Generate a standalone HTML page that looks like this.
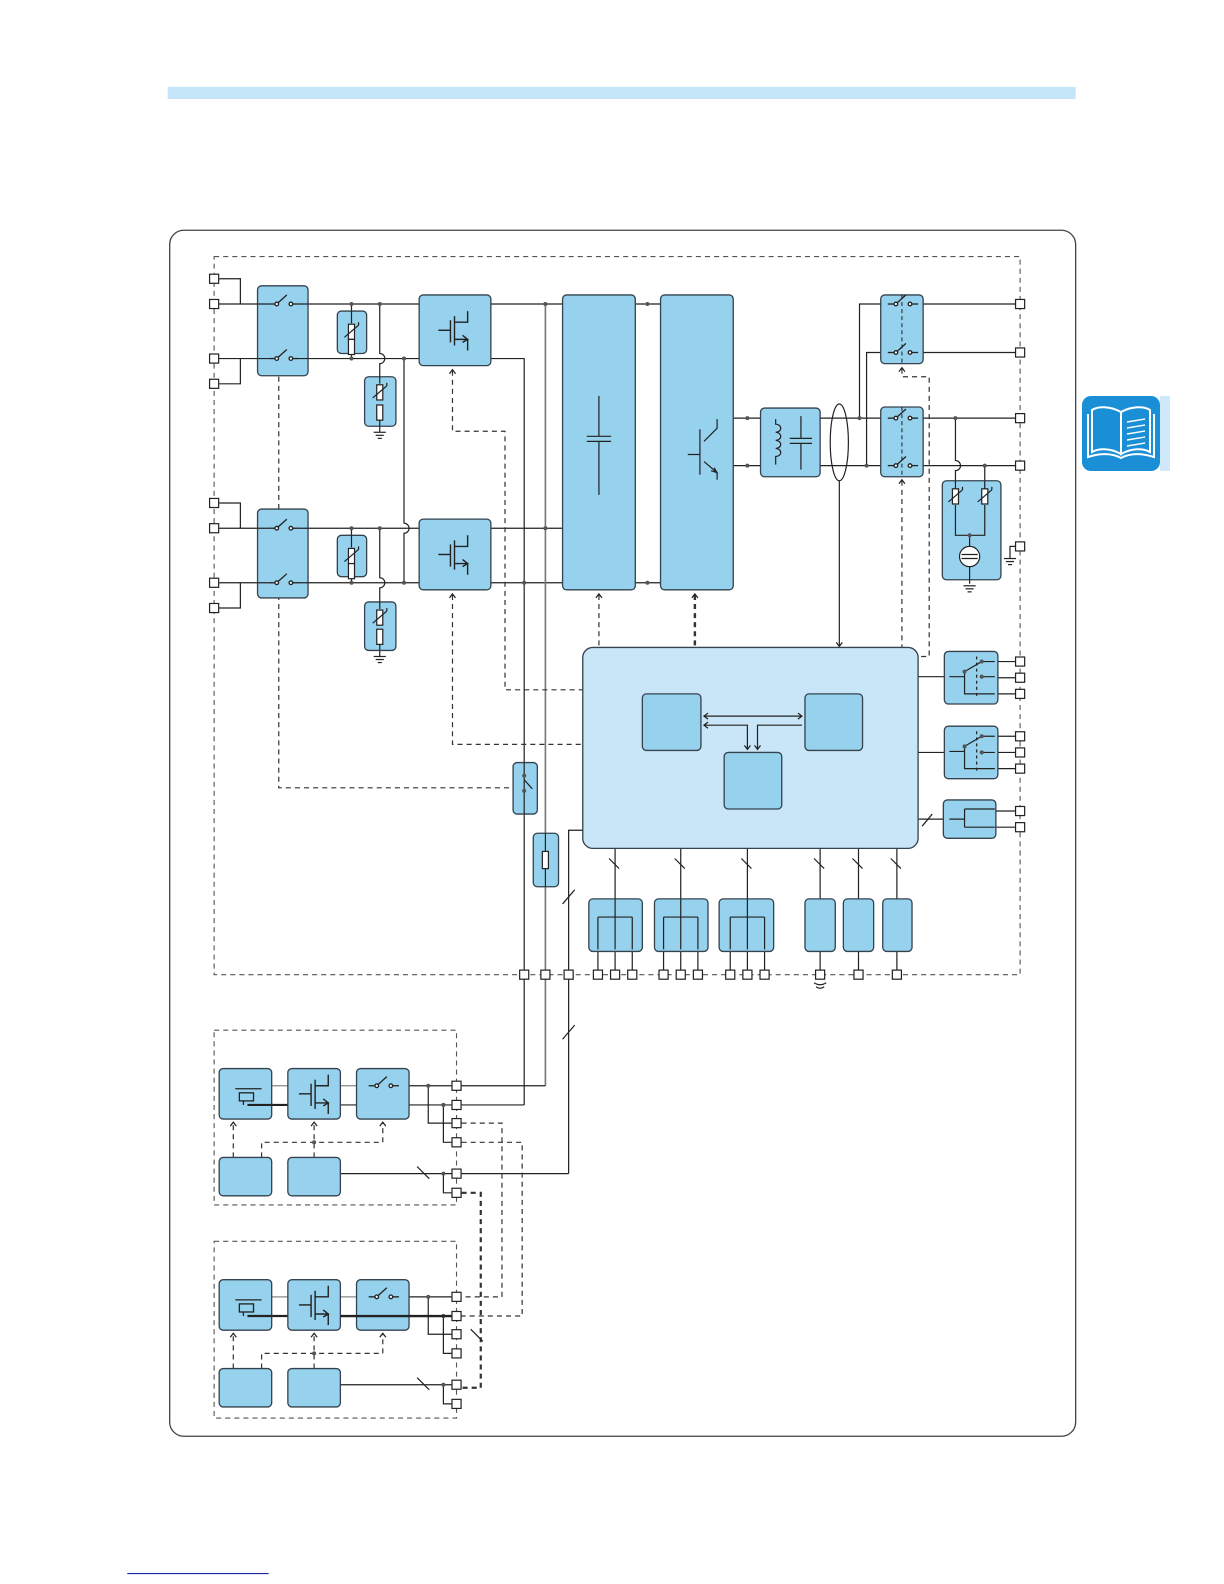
<!DOCTYPE html>
<html><head><meta charset="utf-8"><style>
html,body{margin:0;padding:0;background:#fff;}
svg{display:block;}
</style></head><body>
<svg width="1224" height="1584" viewBox="0 0 1224 1584" xmlns="http://www.w3.org/2000/svg">
<defs>
<g id="sw" stroke="#222" stroke-width="1.3" fill="none">
<line x1="-14" y1="0" x2="-6" y2="0"/><line x1="-6" y1="0" x2="4" y2="-9"/><line x1="8" y1="0" x2="16" y2="0"/>
<circle cx="-6" cy="0" r="1.8" fill="#fff"/><circle cx="8" cy="0" r="1.8" fill="#fff"/>
</g>
<g id="var" stroke="#222" stroke-width="1.2"><rect x="-3" y="0" width="6" height="15" fill="#fff"/><line x1="-7" y1="13" x2="7" y2="1"/><line x1="7" y1="1" x2="7" y2="-2"/></g>
<g id="res" stroke="#222" stroke-width="1.2"><rect x="-3" y="0" width="6" height="15" fill="#fff"/></g>
<g id="gnd" stroke="#222" stroke-width="1.2"><line x1="-6" y1="0" x2="6" y2="0"/><line x1="-4" y1="3" x2="4" y2="3"/><line x1="-2" y1="6" x2="2" y2="6"/></g>
<g id="fet" stroke="#222" stroke-width="1.4" fill="none">
<line x1="-16" y1="0" x2="-4" y2="0"/><line x1="-4" y1="-10" x2="-4" y2="12"/><line x1="0" y1="-14" x2="0" y2="15"/>
<polyline points="0,-8 13,-8 13,-19"/><polyline points="0,9 13,9 13,20"/><polyline points="8,5 13,9 8,12"/>
</g>
<g id="bat" stroke="#222" stroke-width="1.3" fill="none">
<line x1="-10" y1="-8" x2="16" y2="-8"/><rect x="-6" y="-4" width="14" height="8"/><line x1="-2" y1="4" x2="-2" y2="8"/>
</g>
</defs>
<rect x="1082" y="396" width="78" height="75" rx="9" fill="#1a8fd6"/>
<rect x="1160" y="396" width="10" height="75" fill="#cfe9fa"/>
<g fill="none" stroke="#fff" stroke-width="2">
<path d="M1121 412 C1110 406 1098 406 1092 410 L1092 452 C1099 448 1110 448 1121 454 Z"/>
<path d="M1121 412 C1132 406 1144 406 1150 410 L1150 452 C1143 448 1132 448 1121 454 Z"/>
<path d="M1088 414 L1088 457 C1100 453 1112 453 1121 458 C1130 453 1142 453 1154 457 L1154 414"/>
<path d="M1127 422 L1145 419 M1127 428 L1145 425 M1127 434 L1145 431 M1127 440 L1145 437 M1127 446 L1145 443" stroke-width="1.4"/>
</g>
<g transform="scale(1.01)">
<rect x="166" y="86" width="899" height="12" fill="#c5e6f8"/>
<line x1="126" y1="1558" x2="266" y2="1558" stroke="#1a2a9a" stroke-width="1.2"/>
<rect x="168" y="228" width="897" height="1194" rx="14" fill="none" stroke="#444" stroke-width="1.3"/>
<g fill="none" stroke="#555" stroke-width="1.1" stroke-dasharray="5,4">
<rect x="212" y="254" width="798" height="711"/>
<rect x="212" y="1020" width="240" height="173"/>
<rect x="212" y="1229" width="240" height="175"/>
</g>
<g stroke="#222" stroke-width="1.2" fill="none">
<path d="M217 276H238V301 M217 301H255 M217 355H255 M217 380H238V355"/>
<path d="M217 498H238V523 M217 523H255 M217 577H255 M217 602H238V577"/>
<path d="M305 301H415 M305 355H415 M305 523H415 M305 577H415"/>
<path d="M348 301V355 M348 523V577"/>
<path d="M376 301V350 A5 5 0 0 1 376 360 V373 M376 523V572 A5 5 0 0 1 376 582 V596 M376 422V428 M376 644V650"/>
<path d="M400 355V518 A5 5 0 0 1 400 528 V577" />
<path d="M486 301H557 M486 355H519 V1094 M486 523H557 M486 577H557 M629 301H654 M629 577H654"/>
<path d="M540 301V1075" stroke="#777" stroke-width="1.6"/>
<path d="M726 414H753 M726 461H753 M812 414H872 M812 461H872 M914 414H1005 M914 461H1005 M914 301H1005 M914 349H1005"/>
<path d="M851 414V301H872 M858 461V349H872"/>
<path d="M946 414V456 A5 5 0 0 1 946 466 V476 M975 461V476"/>
<path d="M1005 541H1000V553"/>
<path d="M831 476V639"/>
<path d="M909 670H935 M909 745H935 M909 811H934 M988 655H1005 M988 671H1005 M988 687H1005 M988 729H1005 M988 745H1005 M988 761H1005 M986 803H1005 M986 819H1005"/>
<path d="M577 822H563V1162"/>
<path d="M609 840V890 M674 840V890 M740 840V890 M812 840V890 M850 840V890 M888 840V890"/>
<path d="M603 850l10 10 M668 850l10 10 M734 850l10 10 M806 850l10 10 M844 850l10 10 M882 850l10 10 M557 895l12 -14 M557 1029l12 -14 M913 818l10 -12"/>
<path d="M592 942V960 M609 942V960 M626 942V960 M657 942V960 M674 942V960 M691 942V960 M723 942V960 M740 942V960 M757 942V960 M812 942V960 M850 942V960 M888 942V960"/>
<path d="M806 973 q6 4 12 0 M808 977 q4 3 8 0"/>
<path d="M457 1075H540 M457 1094H519 M457 1162H563"/>
</g>
<g fill="#555"><circle cx="348" cy="301" r="2"/><circle cx="348" cy="355" r="2"/><circle cx="376" cy="301" r="2"/><circle cx="400" cy="355" r="2"/><circle cx="400" cy="577" r="2"/><circle cx="348" cy="523" r="2"/><circle cx="348" cy="577" r="2"/><circle cx="376" cy="523" r="2"/><circle cx="540" cy="301" r="2"/><circle cx="540" cy="523" r="2"/><circle cx="519" cy="577" r="2"/><circle cx="641" cy="301" r="2"/><circle cx="641" cy="577" r="2"/><circle cx="740" cy="414" r="2"/><circle cx="740" cy="461" r="2"/><circle cx="851" cy="414" r="2"/><circle cx="858" cy="461" r="2"/><circle cx="946" cy="414" r="2"/><circle cx="975" cy="461" r="2"/></g>
<g fill="none" stroke="#333" stroke-width="1.2" stroke-dasharray="5,4">
<path d="M276 283V780H508"/>
<path d="M448 367V427H500V683H577"/>
<path d="M448 589V737H577"/>
<path d="M593 589V641"/>
<path d="M688 589V641" stroke-width="2.4"/>
<path d="M893 365V373H920V650H909"/>
<path d="M893 476V641"/>
<path d="M457 1112H497V1284H457 M457 1131H517V1303H457"/>
<path d="M457 1181H476V1374H457" stroke-width="2.2"/>
<path d="M231 1146V1112 M259 1146V1131H379V1112 M311 1146V1112"/>
<path d="M231 1355V1321 M259 1355V1340H379V1321 M311 1355V1321"/>
</g>
<g fill="none" stroke="#222" stroke-width="1.2"><path d="M445 370l3 -4 3 4 M445 592l3 -4 3 4 M590 592l3 -4 3 4 M685 592l3 -4 3 4 M890 368l3 -4 3 4 M890 479l3 -4 3 4 M828 636l3 4 3 -4 M228 1115l3 -4 3 4 M308 1115l3 -4 3 4 M376 1115l3 -4 3 4 M228 1324l3 -4 3 4 M308 1324l3 -4 3 4 M376 1324l3 -4 3 4"/></g>
<g fill="#96d2ee" stroke="#34434d" stroke-width="1.3">
<rect x="255" y="283" width="50" height="89" rx="4"/><rect x="255" y="504" width="50" height="88" rx="4"/>
<rect x="334" y="308" width="29" height="42" rx="4"/><rect x="334" y="530" width="29" height="41" rx="4"/>
<rect x="361" y="373" width="31" height="49" rx="4"/><rect x="361" y="596" width="31" height="48" rx="4"/>
<rect x="415" y="292" width="71" height="70" rx="4"/><rect x="415" y="514" width="71" height="70" rx="4"/>
<rect x="557" y="292" width="72" height="292" rx="4"/><rect x="654" y="292" width="72" height="292" rx="4"/>
<rect x="753" y="404" width="59" height="68" rx="4"/>
<rect x="872" y="292" width="42" height="68" rx="4"/><rect x="872" y="403" width="42" height="69" rx="4"/>
<rect x="933" y="476" width="58" height="98" rx="4"/>
<rect x="577" y="641" width="332" height="199" rx="10" fill="#c8e6f7"/>
<rect x="636" y="687" width="58" height="56" rx="4"/><rect x="797" y="687" width="57" height="56" rx="4"/><rect x="717" y="745" width="57" height="56" rx="4"/>
<rect x="935" y="645" width="53" height="52" rx="4"/><rect x="935" y="719" width="53" height="52" rx="4"/><rect x="934" y="792" width="52" height="38" rx="4"/>
<rect x="508" y="755" width="24" height="51" rx="4"/><rect x="528" y="825" width="25" height="53" rx="4"/>
<rect x="583" y="890" width="53" height="52" rx="4"/><rect x="648" y="890" width="53" height="52" rx="4"/><rect x="712" y="890" width="54" height="52" rx="4"/>
<rect x="797" y="890" width="30" height="52" rx="4"/><rect x="835" y="890" width="30" height="52" rx="4"/><rect x="874" y="890" width="29" height="52" rx="4"/>
</g>
<g stroke="#222" stroke-width="1.2" fill="none">
<path d="M255 301H266 M296 301H305 M255 355H266 M296 355H305 M255 523H266 M296 523H305 M255 577H266 M296 577H305"/>
<path d="M348 308V320 M348 350V336 M376 373V380 M376 416V422 M348 530V542 M348 571V558 M376 596V603 M376 638V644"/>
<path d="M593 392V432 M581 432H605 M581 437H605 M593 437V490"/>
<path d="M681 450H693 M693 425V470 M697 437L710 424V415 M697 457L710 468V475 M704 466l6 2 -3 -5"/>
<path d="M768 415 V420 a5 4 0 1 1 0 8 a5 4 0 1 1 0 8 a5 4 0 1 1 0 8 a5 4 0 1 1 0 8 V460 M793 412V434 M782 434H804 M782 439H804 M793 439V465"/>
<ellipse cx="831" cy="438" rx="9" ry="38"/>
<path d="M946 476V484 M946 500V530H975V500 M975 476V484 M960 530V541 M960 561V578"/>
<circle cx="960" cy="551" r="10" fill="#fff"/><path d="M952 549H968 M952 553H968"/>
<path d="M697 709H794 M701 706l-4 3 4 3 M790 706l4 3 -4 3 M697 718H740V741 M701 715l-4 3 4 3 M737 738l3 4 3 -4 M794 718H750V741 M747 738l3 4 3 -4"/>
<path d="M940 670H955 M955 665L972 655 M972 655H985 M972 670H985 M955 665V687H985" />
<path d="M940 744H955 M955 739L972 729 M972 729H985 M972 745H985 M955 739V761H985"/>
<path d="M967 650V690 M967 724V764" stroke-dasharray="3,3"/>
<path d="M940 811H955 M955 801V819 M955 801H985 M955 819H985"/>
<path d="M519 755V806 M519 772L527 781 M540 825V878"/>
<path d="M609 890V940 M592 908H626 M592 908V940 M626 908V940 M674 890V940 M657 908H691 M657 908V940 M691 908V940 M740 890V940 M723 908H757 M723 908V940 M757 908V940"/>
</g>
<g fill="#555"><circle cx="955" cy="665" r="2"/><circle cx="972" cy="655" r="2"/><circle cx="972" cy="670" r="2"/><circle cx="955" cy="739" r="2"/><circle cx="972" cy="729" r="2"/><circle cx="972" cy="745" r="2"/><circle cx="960" cy="530" r="2"/><circle cx="519" cy="768" r="2"/><circle cx="519" cy="783" r="2"/></g>
<rect x="537" y="843" width="6" height="17" fill="#fff" stroke="#222" stroke-width="1.2"/>
<use href="#sw" x="280" y="301"/><use href="#sw" x="280" y="355"/><use href="#sw" x="280" y="523"/><use href="#sw" x="280" y="577"/>
<use href="#sw" x="893" y="301"/><use href="#sw" x="893" y="349"/><use href="#sw" x="893" y="414"/><use href="#sw" x="893" y="461"/>
<path d="M893 292V360 M893 403V472" stroke="#222" stroke-dasharray="4,3" fill="none"/>
<use href="#var" x="348" y="321"/><use href="#res" x="348" y="336"/><use href="#var" x="376" y="381"/><use href="#res" x="376" y="401"/>
<use href="#var" x="348" y="543"/><use href="#res" x="348" y="558"/><use href="#var" x="376" y="604"/><use href="#res" x="376" y="623"/>
<use href="#var" x="946" y="484"/><use href="#var" x="975" y="484"/>
<use href="#gnd" x="376" y="428"/><use href="#gnd" x="376" y="650"/><use href="#gnd" x="960" y="580"/><use href="#gnd" x="1000" y="553"/>
<use href="#fet" x="450" y="327"/><use href="#fet" x="450" y="549"/>
<g id="sec">
<g stroke="#222" stroke-width="1.2" fill="none">
<path d="M269 1075H285 M337 1075H353" stroke="#888"/>
<path d="M245 1094H285" stroke-width="2.2"/>
<path d="M337 1094H447 M392 1075H447 M424 1075V1112H447 M439 1094V1131H447 M337 1162H447 M439 1162V1181H447 M413 1155l12 12"/>
</g>
<g fill="#96d2ee" stroke="#34434d" stroke-width="1.3">
<rect x="217" y="1058" width="52" height="50" rx="4"/><rect x="285" y="1058" width="52" height="50" rx="4"/><rect x="353" y="1058" width="52" height="50" rx="4"/>
<rect x="217" y="1146" width="52" height="38" rx="4"/><rect x="285" y="1146" width="52" height="38" rx="4"/>
</g>
<path d="M245 1094H269" stroke="#222" stroke-width="2.2"/>
<use href="#bat" x="243" y="1086"/><use href="#fet" x="312" y="1083"/><use href="#sw" x="379" y="1075"/>
<g fill="#555"><circle cx="424" cy="1075" r="2"/><circle cx="439" cy="1094" r="2"/><circle cx="439" cy="1162" r="2"/><circle cx="311" cy="1131" r="2"/></g>
<g fill="#fff" stroke="#222" stroke-width="1.2">
<rect x="447.5" y="1070.5" width="9" height="9"/><rect x="447.5" y="1089.5" width="9" height="9"/><rect x="447.5" y="1107.5" width="9" height="9"/><rect x="447.5" y="1126.5" width="9" height="9"/><rect x="447.5" y="1157.5" width="9" height="9"/><rect x="447.5" y="1176.5" width="9" height="9"/>
</g>
</g>
<use href="#sec" x="0" y="209"/>
<path d="M337 1303H447" stroke="#222" stroke-width="2.4"/>
<path d="M466 1316l12 12" stroke="#222" stroke-width="1.2"/>
<g fill="#fff" stroke="#222" stroke-width="1.2">
<rect x="207.5" y="271.5" width="9" height="9"/><rect x="207.5" y="296.5" width="9" height="9"/><rect x="207.5" y="350.5" width="9" height="9"/><rect x="207.5" y="375.5" width="9" height="9"/>
<rect x="207.5" y="493.5" width="9" height="9"/><rect x="207.5" y="518.5" width="9" height="9"/><rect x="207.5" y="572.5" width="9" height="9"/><rect x="207.5" y="597.5" width="9" height="9"/>
<rect x="1005.5" y="296.5" width="9" height="9"/><rect x="1005.5" y="344.5" width="9" height="9"/><rect x="1005.5" y="409.5" width="9" height="9"/><rect x="1005.5" y="456.5" width="9" height="9"/><rect x="1005.5" y="536.5" width="9" height="9"/>
<rect x="1005.5" y="650.5" width="9" height="9"/><rect x="1005.5" y="666.5" width="9" height="9"/><rect x="1005.5" y="682.5" width="9" height="9"/>
<rect x="1005.5" y="724.5" width="9" height="9"/><rect x="1005.5" y="740.5" width="9" height="9"/><rect x="1005.5" y="756.5" width="9" height="9"/>
<rect x="1005.5" y="798.5" width="9" height="9"/><rect x="1005.5" y="814.5" width="9" height="9"/>
<rect x="514.5" y="960.5" width="9" height="9"/><rect x="535.5" y="960.5" width="9" height="9"/><rect x="558.5" y="960.5" width="9" height="9"/>
<rect x="587.5" y="960.5" width="9" height="9"/><rect x="604.5" y="960.5" width="9" height="9"/><rect x="621.5" y="960.5" width="9" height="9"/>
<rect x="652.5" y="960.5" width="9" height="9"/><rect x="669.5" y="960.5" width="9" height="9"/><rect x="686.5" y="960.5" width="9" height="9"/>
<rect x="718.5" y="960.5" width="9" height="9"/><rect x="735.5" y="960.5" width="9" height="9"/><rect x="752.5" y="960.5" width="9" height="9"/>
<rect x="807.5" y="960.5" width="9" height="9"/><rect x="845.5" y="960.5" width="9" height="9"/><rect x="883.5" y="960.5" width="9" height="9"/>
</g>
</g>
</svg>
</body></html>
